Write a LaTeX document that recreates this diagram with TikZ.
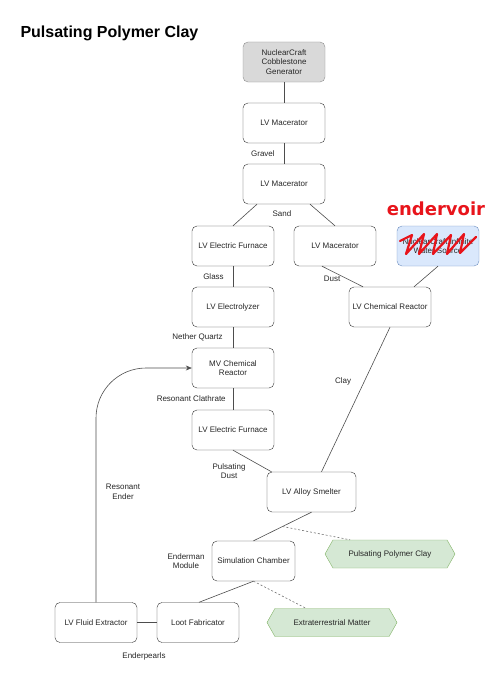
\documentclass[tikz,border=0pt]{standalone}
\usepackage{fontspec}
\setmainfont{Liberation Sans}
\newfontfamily\scrawlfont{DejaVu Sans}
\usetikzlibrary{shapes.symbols,arrows.meta}

\definecolor{boxline}{HTML}{333333}
\definecolor{wire}{HTML}{4D4D4D}
\definecolor{genfill}{HTML}{D9D9D9}
\definecolor{genline}{HTML}{8C8C8C}
\definecolor{waterfill}{HTML}{DAE8FC}
\definecolor{waterline}{HTML}{6C8EBF}
\definecolor{outfill}{HTML}{D5E8D4}
\definecolor{outdraw}{HTML}{82B366}
\definecolor{scrawl}{HTML}{E8141B}

\tikzset{
  machine/.style={draw=boxline, rounded corners=5pt, minimum width=82pt, minimum height=40pt,
    align=center, inner sep=1pt, text=black!85, font=\fontsize{8}{9.5}\selectfont},
  lbl/.style={align=center, inner sep=1pt, text=black!85, font=\fontsize{8}{9.5}\selectfont},
  product/.style={shape=signal, signal to=east and west, signal pointer angle=121,
    draw=outdraw, fill=outfill, minimum width=130pt, minimum height=28pt, inner sep=1pt,
    text=black!85, font=\fontsize{8}{9.5}\selectfont},
  link/.style={draw=wire, line width=0.6pt},
  tap/.style={draw=wire!80, line width=0.6pt, dash pattern=on 2pt off 2pt},
}

\begin{document}
\begin{tikzpicture}[x=1pt, y=-1pt]
  \useasboundingbox (0,0) rectangle (493,677);

  \node[anchor=west, font=\bfseries\fontsize{16}{18}\selectfont] (title) at (17,33) {Pulsating Polymer Clay};

  \node[machine, fill=genfill, draw=genline] (gen) at (284,62) {NuclearCraft\\Cobblestone\\Generator};
  \node[machine] (mac1) at (284,123) {LV Macerator};
  \node[machine] (mac2) at (284,184) {LV Macerator};
  \node[machine] (furn1) at (233,246) {LV Electric Furnace};
  \node[machine] (mac3) at (335,246) {LV Macerator};
  \node[machine, fill=waterfill, draw=waterline] (water) at (438,246) {NuclearCraft Infinite\\Water Source};
  \node[machine] (elec) at (233,307) {LV Electrolyzer};
  \node[machine] (chem) at (390,307) {LV Chemical Reactor};
  \node[machine] (mvchem) at (233,368) {MV Chemical\\Reactor};
  \node[machine] (furn2) at (233,430) {LV Electric Furnace};
  \node[machine, minimum width=89pt] (alloy) at (311.5,492) {LV Alloy Smelter};
  \node[machine, minimum width=83pt] (sim) at (253.5,561) {Simulation Chamber};
  \node[machine] (fluid) at (96,622.5) {LV Fluid Extractor};
  \node[machine] (loot) at (198,622.5) {Loot Fabricator};
  \node[product] (ppc) at (390,554) {Pulsating Polymer Clay};
  \node[product] (etm) at (332,622.5) {Extraterrestrial Matter};

  % scribbled over by hand
  \node[text=scrawl, font=\scrawlfont\bfseries\fontsize{18}{20}\selectfont] (endervoir) at (436,209) {endervoir};
  \draw[scrawl, line width=2.2pt, line join=round, line cap=round]
    (400,241) -- (412,235) -- (406,254) -- (424,234) -- (419,254) -- (437,234) -- (433,254)
    -- (451,235) -- (447,254) -- (464,234) -- (460,253) -- (476,237);

  \draw[link] (gen) -- (mac1);
  \draw[link] (mac1) -- node[lbl, left=8pt] (lgravel) {Gravel} (mac2);
  \draw[link] ([xshift=-27]mac2.south) -- (furn1.north);
  \draw[link] ([xshift=26]mac2.south) -- (mac3.north);
  \node[lbl] (lsand) at (282,214) {Sand};
  \draw[link] (furn1) -- node[lbl, left=8pt] (lglass) {Glass} (elec);
  \draw[link] ([xshift=-13]mac3.south) -- ([xshift=-27]chem.north);
  \node[lbl] (ldust) at (332,279) {Dust};
  \draw[link] (water.south) -- ([xshift=24]chem.north);
  \draw[link] (elec) -- node[lbl, left=9pt] (lquartz) {Nether Quartz} (mvchem);
  \draw[link] (chem.south) -- ([xshift=10]alloy.north);
  \node[lbl] (lclay) at (343,381) {Clay};
  \draw[link] (mvchem) -- node[lbl, left=6pt] (lclath) {Resonant Clathrate} (furn2);
  \draw[link] (furn2.south) -- ([xshift=-40]alloy.north);
  \node[lbl] (lpdust) at (229,471) {Pulsating\\Dust};
  \draw[link] (alloy.south) -- coordinate[pos=0.5] (clayfork) (sim.north);
  \draw[tap] (clayfork) -- ([xshift=-40]ppc.north);
  \draw[link] (sim.south) -- ([xshift=1]loot.north);
  \draw[tap] (sim.south) -- ([xshift=-26]etm.north);
  \node[lbl] (lmodule) at (186,561) {Enderman\\Module};
  \draw[link] (fluid) -- (loot);
  \node[lbl] (lpearls) at (144,656) {Enderpearls};
  \draw[link, rounded corners=50pt, -{Stealth[length=6pt,width=5pt]}] (fluid.north) |- (mvchem.west);
  \node[lbl] (lender) at (123,492) {Resonant\\Ender};
\end{tikzpicture}
\end{document}
